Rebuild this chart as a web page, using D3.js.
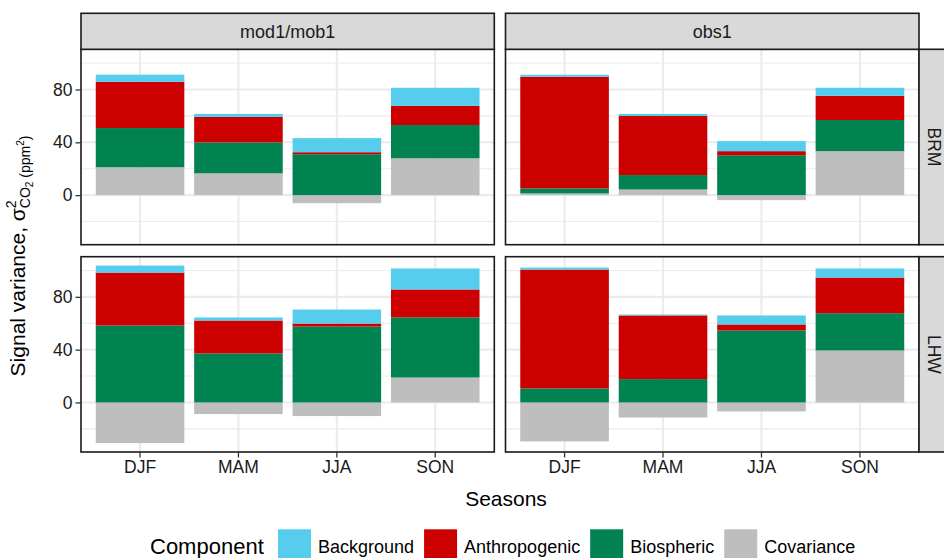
<!DOCTYPE html>
<html>
<head>
<meta charset="utf-8">
<script src="https://cdn.jsdelivr.net/npm/d3@7"></script>
<style>
  html, body { margin: 0; padding: 0; background: #ffffff; }
  svg { display: block; }
  text { font-family: "Liberation Sans", Arial, Helvetica, sans-serif; }
</style>
</head>
<body>
<svg id="chart" width="944" height="558"></svg>
<script>
// ---------------- DATA ----------------
const seasons = ["DJF", "MAM", "JJA", "SON"];
const components = ["Background", "Anthropogenic", "Biospheric", "Covariance"];
const models = ["mod1/mob1", "obs1"];
const sites = ["BRM", "LHW"];
const yTicks = [0, 40, 80];
const yMinorTicks = [-20, 20, 60, 100];
const componentColors = ["#56CDED", "#CD0000", "#008251", "#BEBEBE"];

// BRM, mod1/mob1
const brmModBackground    = [5.4, 2.3, 10.7, 13.7];
const brmModAnthropogenic = [35.0, 19.3, 1.5, 14.5];
const brmModBiospheric    = [29.7, 23.4, 31.0, 25.2];
const brmModCovariance    = [21.1, 16.5, -6.1, 27.9];
// BRM, obs1
const brmObsBackground    = [1.5, 1.6, 7.6, 6.1];
const brmObsAnthropogenic = [84.6, 44.7, 3.1, 18.3];
const brmObsBiospheric    = [3.8, 10.9, 30.2, 23.6];
const brmObsCovariance    = [1.3, 4.3, -3.8, 33.3];
// LHW, mod1/mob1
const lhwModBackground    = [5.3, 2.3, 10.6, 15.9];
const lhwModAnthropogenic = [40.1, 25.0, 2.3, 21.2];
const lhwModBiospheric    = [58.3, 37.1, 57.5, 45.5];
const lhwModCovariance    = [-30.8, -8.8, -10.3, 18.9];
// LHW, obs1
const lhwObsBackground    = [1.5, 0.7, 6.8, 6.9];
const lhwObsAnthropogenic = [90.1, 48.2, 4.6, 27.0];
const lhwObsBiospheric    = [10.6, 17.7, 54.5, 28.2];
const lhwObsCovariance    = [-29.5, -11.4, -6.8, 39.4];

const panelData = {
  "BRM|mod1/mob1": [brmModBackground, brmModAnthropogenic, brmModBiospheric, brmModCovariance],
  "BRM|obs1":      [brmObsBackground, brmObsAnthropogenic, brmObsBiospheric, brmObsCovariance],
  "LHW|mod1/mob1": [lhwModBackground, lhwModAnthropogenic, lhwModBiospheric, lhwModCovariance],
  "LHW|obs1":      [lhwObsBackground, lhwObsAnthropogenic, lhwObsBiospheric, lhwObsCovariance]
};

// ---------------- LAYOUT ----------------
const svg = d3.select("#chart");
const colX = [[81, 494.3], [505.5, 919]];
const rowY = [[49.3, 244.7], [256.7, 452]];
const stripTop = 13.3;
const stripW = 36;
const borderCol = "#1a1a1a";
const textCol = "#1a1a1a";

// stacking (ggplot-like: positives and negatives stacked separately; Covariance at bottom)
function stackPanel(arrs) {
  const rects = [];
  seasons.forEach((s, si) => {
    let pos = 0, neg = 0;
    for (let ci = components.length - 1; ci >= 0; ci--) {
      const v = arrs[ci][si];
      if (v >= 0) { rects.push({s, ci, y0: pos, y1: pos + v}); pos += v; }
      else { rects.push({s, ci, y0: neg + v, y1: neg}); neg += v; }
    }
  });
  return rects;
}

let allMin = 0, allMax = 0;
Object.values(panelData).forEach(arrs => {
  stackPanel(arrs).forEach(r => { allMin = Math.min(allMin, r.y0); allMax = Math.max(allMax, r.y1); });
});
const span = allMax - allMin;
const yDomain = [allMin - 0.05 * span, allMax + 0.05 * span];

sites.forEach((site, ri) => {
  const [yTop, yBot] = rowY[ri];
  const y = d3.scaleLinear().domain(yDomain).range([yBot, yTop]);
  models.forEach((model, ci) => {
    const [xL, xR] = colX[ci];
    const x = d3.scaleBand().domain(seasons).range([xL, xR]).paddingInner(0.1).paddingOuter(0.15);
    const g = svg.append("g");
    // background
    g.append("rect").attr("x", xL).attr("y", yTop).attr("width", xR - xL).attr("height", yBot - yTop).attr("fill", "#ffffff");
    // minor grid
    g.selectAll(".ymin").data(yMinorTicks).enter().append("line")
      .attr("x1", xL).attr("x2", xR).attr("y1", d => y(d)).attr("y2", d => y(d))
      .attr("stroke", "#ebebeb").attr("stroke-width", 1.1);
    // major grid
    g.selectAll(".ymaj").data(yTicks).enter().append("line")
      .attr("x1", xL).attr("x2", xR).attr("y1", d => y(d)).attr("y2", d => y(d))
      .attr("stroke", "#ebebeb").attr("stroke-width", 2.1);
    g.selectAll(".xmaj").data(seasons).enter().append("line")
      .attr("x1", d => x(d) + x.bandwidth() / 2).attr("x2", d => x(d) + x.bandwidth() / 2)
      .attr("y1", yTop).attr("y2", yBot)
      .attr("stroke", "#ebebeb").attr("stroke-width", 2.1);
    // bars
    const rects = stackPanel(panelData[site + "|" + model]);
    g.selectAll(".bar").data(rects).enter().append("rect")
      .attr("x", d => x(d.s)).attr("width", x.bandwidth())
      .attr("y", d => y(d.y1)).attr("height", d => y(d.y0) - y(d.y1))
      .attr("fill", d => componentColors[d.ci]);
    // border
    g.append("rect").attr("x", xL).attr("y", yTop).attr("width", xR - xL).attr("height", yBot - yTop)
      .attr("fill", "none").attr("stroke", borderCol).attr("stroke-width", 1.6);

    // y axis on left column
    if (ci === 0) {
      const ax = svg.append("g").attr("transform", `translate(${xL},0)`)
        .call(d3.axisLeft(y).tickValues(yTicks).tickSize(5.5).tickPadding(3).tickFormat(d3.format("d")));
      ax.select(".domain").remove();
      ax.selectAll(".tick line").attr("stroke", "#333").attr("stroke-width", 1.3);
      ax.selectAll(".tick text").attr("fill", textCol).style("font-size", "17.5px")
        .style("font-family", "'Liberation Sans', Arial, sans-serif");
    }
    // x axis on bottom row
    if (ri === sites.length - 1) {
      const ax = svg.append("g").attr("transform", `translate(0,${yBot})`)
        .call(d3.axisBottom(x).tickSize(5.5).tickPadding(3));
      ax.select(".domain").remove();
      ax.selectAll(".tick line").attr("stroke", "#333").attr("stroke-width", 1.3);
      ax.selectAll(".tick text").attr("fill", textCol).style("font-size", "17.5px")
        .style("font-family", "'Liberation Sans', Arial, sans-serif");
    }
    // top strips
    if (ri === 0) {
      svg.append("rect").attr("x", xL).attr("y", stripTop).attr("width", xR - xL).attr("height", yTop - stripTop)
        .attr("fill", "#d9d9d9").attr("stroke", borderCol).attr("stroke-width", 1.6);
      svg.append("text").attr("x", (xL + xR) / 2).attr("y", (stripTop + yTop) / 2)
        .attr("text-anchor", "middle").attr("dy", "0.35em").attr("fill", textCol)
        .style("font-size", "18px").text(model);
    }
    // right strips (partly beyond the canvas edge, as in the reference)
    if (ci === models.length - 1) {
      svg.append("rect").attr("x", xR).attr("y", yTop).attr("width", stripW).attr("height", yBot - yTop)
        .attr("fill", "#d9d9d9").attr("stroke", borderCol).attr("stroke-width", 1.6);
      svg.append("text").attr("transform", `translate(${xR + 9},${(yTop + yBot) / 2}) rotate(90)`)
        .attr("text-anchor", "middle").attr("fill", textCol)
        .style("font-size", "17.5px").text(site);
    }
  });
});

// axis titles
svg.append("text").attr("x", 506).attr("y", 505.5).attr("text-anchor", "middle")
  .attr("fill", "#000").style("font-size", "21px").text("Seasons");

const yt = svg.append("text").attr("transform", "translate(25,256) rotate(-90)")
  .attr("text-anchor", "middle").attr("fill", "#000").style("font-size", "21px");
yt.append("tspan").text("Signal variance, σ");
yt.append("tspan").attr("dy", -9).style("font-size", "14px").text("2");
yt.append("tspan").attr("dx", -7.8).attr("dy", 14).style("font-size", "14px").text("CO");
yt.append("tspan").attr("dy", 3).style("font-size", "10px").text("2");
yt.append("tspan").attr("dy", -3).style("font-size", "14px").text(" (ppm");
yt.append("tspan").attr("dy", -6).style("font-size", "10px").text("2");
yt.append("tspan").attr("dy", 6).style("font-size", "14px").text(")");

// legend
const lg = svg.append("g");
lg.append("text").attr("x", 150).attr("y", 553.7).attr("fill", "#000").style("font-size", "22px").text("Component");
let lx = 278;
components.forEach((c, i) => {
  lg.append("rect").attr("x", lx).attr("y", 529.3).attr("width", 33).attr("height", 33).attr("fill", componentColors[i]);
  const t = lg.append("text").attr("x", lx + 40).attr("y", 552.7).attr("fill", "#000").style("font-size", "18px").text(c);
  lx = lx + 40 + t.node().getComputedTextLength() + 10;
});
</script>
</body>
</html>
